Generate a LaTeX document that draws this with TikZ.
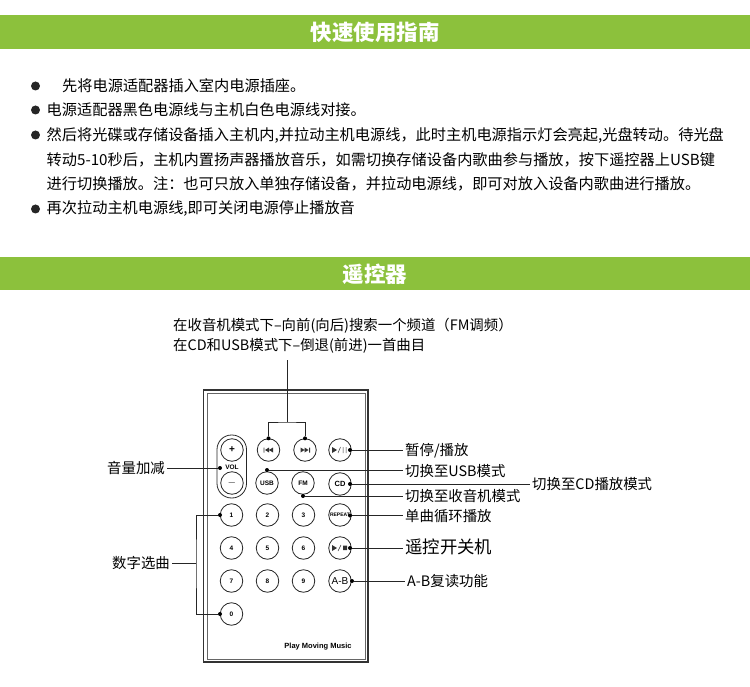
\documentclass[tikz,border=0pt]{standalone}
\usepackage{fontspec}
\setmainfont{Noto Sans CJK SC}
\newfontfamily\latinfont{Liberation Sans}
\usetikzlibrary{positioning}
\tikzset{
	band/.style={fill=bandgreen, draw=none},
	bandtitle/.style={text=white, font=\fontsize{21.5}{22}\selectfont\bfseries},
	para/.style={anchor=west, inner sep=0pt, font=\fontsize{15.2}{16}\selectfont},
	bullet/.style={circle, fill=black!85, inner sep=0pt, minimum size=9pt},
	key/.style={circle, draw=black!85, line width=0.8pt, minimum size=22.5pt, inner sep=0pt, font=\latinfont\fontsize{6.5}{6.5}\selectfont\bfseries},
	dotmark/.style={circle, fill=black, inner sep=0pt, minimum size=4pt},
	leader/.style={draw=black!85, line width=0.9pt},
	callout/.style={anchor=west, inner sep=2pt, font=\fontsize{14.4}{15}\selectfont},
	glyph/.style={fill=black!80, draw=none}
}
\definecolor{bandgreen}{HTML}{8CC13C}

\begin{document}
\begin{tikzpicture}[x=1pt, y=-1pt]

	\useasboundingbox (0,0) rectangle (750,687);

	\path[band] (0,15) rectangle (750,49);
	\node[bandtitle] (guidetitle) at (375,32) {快速使用指南};
	\path[band] (0,257) rectangle (750,290);
	\node[bandtitle] (remotetitle) at (375,274) {遥控器};

	\node[bullet] (b1) at (35.5,86) {};
	\node[bullet] (b2) at (35.5,110) {};
	\node[bullet] (b3) at (35.5,135) {};
	\node[bullet] (b4) at (35.5,209) {};
	\node[para] (p1) at (62,86) {先将电源适配器插入室内电源插座。};
	\node[para] (p2) at (46.5,110) {电源适配器黑色电源线与主机白色电源线对接。};
	\node[para] (p3) at (46.5,135) {然后将光碟或存储设备插入主机内,并拉动主机电源线，此时主机电源指示灯会亮起,光盘转动。待光盘};
	\node[para] (p4) at (46.5,160) {转动5-10秒后，主机内置扬声器播放音乐，如需切换存储设备内歌曲参与播放，按下遥控器上USB键};
	\node[para] (p5) at (46.5,184) {进行切换播放。注：也可只放入单独存储设备，并拉动电源线，即可对放入设备内歌曲进行播放。};
	\node[para] (p6) at (46.5,209) {再次拉动主机电源线,即可关闭电源停止播放音};

	\draw[black!80, line width=1.1pt] (203.5,390) rectangle (368,662);
	\draw[black!60, line width=0.8pt] (207,393.5) rectangle (365,659);
	\draw[black!85, line width=0.8pt, rounded corners=14.5pt] (217,435) rectangle (246.5,498);

	\node[key] (plus) at (232,450) {\fontsize{10}{10}\selectfont +};
	\node[key] (minus) at (232,483) {\fontsize{11}{11}\selectfont $-$};
	\node[key] (prev) at (268.5,450) {};
	\node[key] (next) at (305,450) {};
	\node[key] (play) at (340,450) {};
	\node[key] (usb) at (267,483) {USB};
	\node[key] (fm) at (303,483) {FM};
	\node[key] (cd) at (340,484) {\fontsize{7.5}{7.5}\selectfont CD};
	\node[key] (k1) at (231.5,515) {1};
	\node[key] (k2) at (267.5,515) {2};
	\node[key] (k3) at (303.5,515) {3};
	\node[key] (repeat) at (340,515) {\fontsize{5}{5}\selectfont REPEAT};
	\node[key] (k4) at (231.5,548) {4};
	\node[key] (k5) at (267.5,548) {5};
	\node[key] (k6) at (303.5,548) {6};
	\node[key] (power) at (340,548) {};
	\node[key] (k7) at (231.5,581) {7};
	\node[key] (k8) at (267.5,581) {8};
	\node[key] (k9) at (303.5,581) {9};
	\node[key] (ab) at (340,581) {\fontsize{10}{10}\selectfont\mdseries A-B};
	\node[key] (k0) at (231.5,614) {0};
	\node[font=\latinfont\fontsize{6.5}{6.5}\selectfont\bfseries, inner sep=0pt] (vol) at (232,467.5) {VOL};
	\node[font=\latinfont\fontsize{7.5}{7.5}\selectfont\bfseries, inner sep=0pt] (brand) at (318,647) {Play Moving Music};

	\path[glyph] (263.5,447.5) rectangle (264.3,452.5) (269,447.5) -- (269,452.5) -- (265,450) -- cycle (273,447.5) -- (273,452.5) -- (269,450) -- cycle;
	\path[glyph] (310,447.5) rectangle (309.2,452.5) (300.5,447.5) -- (300.5,452.5) -- (304.5,450) -- cycle (304.5,447.5) -- (304.5,452.5) -- (308.5,450) -- cycle;
	\path[glyph] (332,447) -- (332,453) -- (337,450) -- cycle;
	\draw[black!80, line width=0.5pt] (338,453) -- (340.5,447) (343,447) -- (343,453) (346,447) -- (346,453);
	\path[glyph] (332,545) -- (332,551) -- (337,548) -- cycle (343,545.5) rectangle (347,550);
	\draw[black!80, line width=0.5pt] (338,551) -- (341,545);

	\node[dotmark] (dprev) at (prev.north) {};
	\node[dotmark] (dnext) at (next.north) {};
	\node[dotmark] (dplay) at (350,450) {};
	\node[dotmark] (dusb) at (267,470) {};
	\node[dotmark] (dcd) at (350,484) {};
	\node[dotmark] (dfm) at (303,496) {};
	\node[dotmark] (drepeat) at (350,515.5) {};
	\node[dotmark] (dpower) at (350,548) {};
	\node[dotmark] (dab) at (352,581) {};
	\node[dotmark] (dvol) at (220,468) {};
	\node[dotmark] (dk1) at (220,515) {};
	\node[dotmark] (dk0) at (220,614) {};

	\node[anchor=west, inner sep=0pt, font=\fontsize{14.4}{15}\selectfont] (seekfm) at (173,326) {在收音机模式下–向前(向后)搜索一个频道（FM调频）};
	\node[anchor=west, inner sep=0pt, font=\fontsize{14.4}{15}\selectfont] (seekcd) at (173,346) {在CD和USB模式下–倒退(前进)一首曲目};
	\node[callout] (playlabel) at (403,451) {暂停/播放};
	\node[callout] (usblabel) at (403,471) {切换至USB模式};
	\node[callout] (cdlabel) at (530,484) {切换至CD播放模式};
	\node[callout] (fmlabel) at (403,496) {切换至收音机模式};
	\node[callout] (repeatlabel) at (403,516) {单曲循环播放};
	\node[callout, font=\fontsize{17.4}{18}\selectfont] (powerlabel) at (403,547) {遥控开关机};
	\node[callout] (ablabel) at (405,581) {A-B复读功能};
	\node[callout, anchor=east] (vollabel) at (167,468) {音量加减};
	\node[callout, anchor=east] (digitlabel) at (172,563) {数字选曲};

	\coordinate (stemtop) at (287.5,360);
	\coordinate (stemfoot) at (287.5,422);
	\coordinate (digitjoin) at (196,563);

	\draw[leader] (stemtop) -- (stemfoot);
	\draw[leader] (dprev) |- (stemfoot) -| (dnext);
	\draw[leader] (dplay) -- (dplay -| playlabel.west);
	\draw[leader] (dusb) -- (dusb -| usblabel.west);
	\draw[leader] (dcd) -- (dcd -| cdlabel.west);
	\draw[leader] (dfm) -- (dfm -| fmlabel.west);
	\draw[leader] (drepeat) -- (drepeat -| repeatlabel.west);
	\draw[leader] (dpower) -- (dpower -| powerlabel.west);
	\draw[leader] (dab) -- (dab -| ablabel.west);
	\draw[leader] (vollabel.east) -- (dvol);
	\draw[leader] (dk1) -| (digitjoin) |- (dk0);
	\draw[leader] (digitlabel.east) -- (digitjoin);

\end{tikzpicture}
\end{document}
